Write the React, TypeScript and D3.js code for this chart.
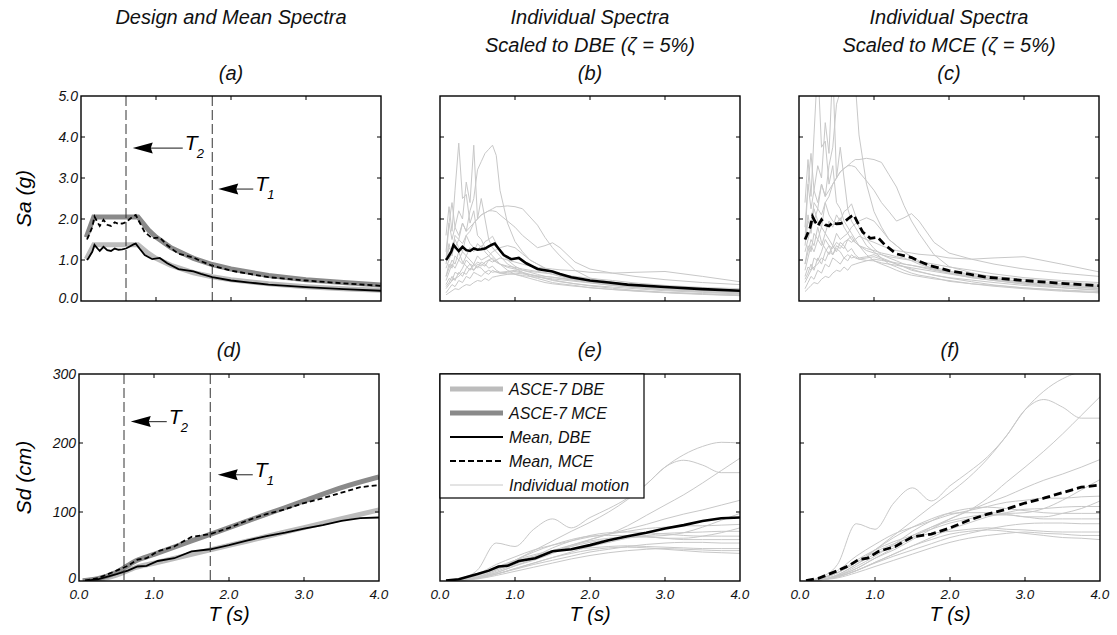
import React from 'react';
import * as d3 from 'd3';

// ---------- DATA ----------
// Period grids (s)
const T_SA = [0.08, 0.12, 0.16, 0.2, 0.25, 0.3, 0.35, 0.4, 0.45, 0.5, 0.55, 0.6, 0.65, 0.7, 0.75, 0.8, 0.9, 1.0, 1.1, 1.2, 1.3, 1.4, 1.5, 1.6, 1.8, 2.0, 2.3, 2.6, 3.0, 3.5, 4.0];
const T_SD = [0.08, 0.25, 0.5, 0.75, 1.0, 1.25, 1.5, 1.75, 2.0, 2.25, 2.5, 2.75, 3.0, 3.25, 3.5, 3.75, 4.0];
const T_MEAN_SA = [0.08, 0.1, 0.15, 0.18, 0.22, 0.25, 0.3, 0.35, 0.4, 0.45, 0.5, 0.55, 0.6, 0.65, 0.7, 0.73, 0.78, 0.85, 0.95, 1.05, 1.15, 1.3, 1.5, 1.6, 1.75, 2.0, 2.25, 2.5, 3.0, 3.5, 4.0];
const T_MEAN_SD = [0.08, 0.25, 0.5, 0.65, 0.78, 0.9, 1.05, 1.27, 1.5, 1.75, 2.0, 2.25, 2.5, 2.75, 3.0, 3.25, 3.5, 3.75, 4.0];
const T_DESIGN_SA = [0.07, 0.17, 0.76, 0.9, 1.0, 1.2, 1.5, 1.75, 2.0, 2.5, 3.0, 3.5, 4.0];
const T_DESIGN_SD = [0.05, 0.25, 0.5, 0.76, 1.0, 1.5, 2.0, 2.5, 3.0, 3.5, 4.0];

// ASCE-7 design spectra
const DESIGN_SA_DBE = [1.02, 1.37, 1.37, 1.16, 1.04, 0.87, 0.69, 0.59, 0.52, 0.42, 0.35, 0.30, 0.26];
const DESIGN_SA_MCE = [1.55, 2.05, 2.05, 1.73, 1.56, 1.30, 1.04, 0.89, 0.78, 0.62, 0.52, 0.45, 0.39];
const DESIGN_SD_DBE = [0.1, 2.1, 8.5, 19.6, 25.8, 38.7, 51.6, 64.5, 77.4, 90.3, 103];
const DESIGN_SD_MCE = [0.2, 3.2, 12.7, 29.4, 38.7, 58, 77.4, 96.8, 116, 135.5, 151];

// Mean spectra
const MEAN_SA_DBE = [1.0, 1.05, 1.2, 1.37, 1.28, 1.22, 1.32, 1.24, 1.22, 1.28, 1.25, 1.26, 1.28, 1.33, 1.38, 1.40, 1.28, 1.12, 1.02, 1.05, 0.92, 0.78, 0.72, 0.66, 0.58, 0.50, 0.45, 0.40, 0.34, 0.29, 0.25];
const MEAN_SA_MCE = [1.5, 1.58, 1.8, 2.06, 1.92, 1.83, 1.98, 1.86, 1.83, 1.92, 1.88, 1.89, 1.92, 2.0, 2.07, 2.1, 1.92, 1.68, 1.53, 1.55, 1.36, 1.15, 1.06, 0.97, 0.86, 0.74, 0.66, 0.58, 0.5, 0.43, 0.37];
const MEAN_SD_DBE = [0.5, 2.5, 10, 15, 21, 22, 29, 33, 43, 46, 52, 59, 65, 70, 76, 81, 87, 91, 92];
const MEAN_SD_MCE = [0.7, 4, 15, 22, 31, 33, 43, 50, 64, 68, 77, 88, 97, 104, 113, 120, 128, 136, 139];

// Individual motions, Sa (g), scaled to DBE
const REC_SA_DBE = [
  [1.6, 2.3, 1.7, 2.7, 3.85, 2.5, 2.6, 1.9, 2.2, 1.6, 1.5, 1.3, 1.2, 1.1, 1.0, 0.9, 0.75, 0.65, 0.6, 0.55, 0.5, 0.45, 0.42, 0.4, 0.36, 0.33, 0.28, 0.24, 0.2, 0.16, 0.13],
  [1.2, 1.9, 2.4, 1.8, 2.2, 2.0, 2.9, 2.4, 3.8, 2.0, 2.5, 2.0, 1.5, 1.3, 1.2, 1.1, 0.9, 0.8, 0.7, 0.6, 0.55, 0.5, 0.45, 0.42, 0.38, 0.32, 0.28, 0.25, 0.21, 0.18, 0.15],
  [0.9, 1.3, 1.2, 1.6, 1.5, 1.9, 1.7, 2.2, 2.5, 3.2, 3.4, 3.6, 3.7, 3.8, 3.55, 2.7, 1.9, 1.45, 1.2, 1.0, 0.9, 0.8, 0.7, 0.62, 0.52, 0.45, 0.38, 0.33, 0.27, 0.22, 0.18],
  [1.0, 1.9, 1.5, 1.8, 1.6, 1.9, 1.7, 1.8, 1.9, 2.0, 2.1, 2.15, 2.2, 2.25, 2.3, 2.3, 2.32, 2.3, 2.25, 2.05, 1.85, 1.55, 1.3, 1.1, 0.75, 0.56, 0.46, 0.38, 0.3, 0.25, 0.2],
  [0.8, 1.0, 1.2, 1.3, 1.5, 1.4, 1.6, 1.7, 1.9, 2.0, 2.1, 2.15, 2.2, 2.2, 2.18, 2.1, 1.95, 1.8, 1.6, 1.45, 1.3, 1.35, 1.42, 1.3, 0.95, 0.78, 0.68, 0.6, 0.52, 0.45, 0.4],
  [0.3, 0.4, 0.5, 0.55, 0.6, 0.7, 0.65, 0.8, 0.75, 0.9, 0.85, 0.95, 1.0, 0.95, 1.0, 1.05, 1.0, 0.95, 0.9, 0.85, 0.82, 0.8, 0.78, 0.76, 0.74, 0.7, 0.68, 0.7, 0.72, 0.6, 0.47],
  [0.6, 0.9, 0.8, 1.1, 1.0, 1.2, 1.1, 1.3, 1.2, 1.4, 1.3, 1.45, 1.5, 1.58, 1.4, 1.2, 1.0, 0.85, 0.75, 0.7, 0.65, 0.6, 0.58, 0.55, 0.5, 0.45, 0.4, 0.36, 0.32, 0.28, 0.25],
  [0.5, 0.7, 0.9, 0.8, 1.0, 0.9, 1.1, 1.0, 0.9, 1.1, 1.0, 1.05, 1.1, 1.2, 1.25, 1.3, 1.35, 1.3, 1.15, 1.0, 0.9, 0.8, 0.72, 0.65, 0.55, 0.48, 0.42, 0.36, 0.3, 0.25, 0.21],
  [0.2, 0.3, 0.4, 0.35, 0.5, 0.45, 0.6, 0.55, 0.7, 0.65, 0.6, 0.7, 0.75, 0.7, 0.72, 0.68, 0.66, 0.65, 0.62, 0.6, 0.58, 0.56, 0.54, 0.52, 0.48, 0.44, 0.38, 0.33, 0.28, 0.24, 0.2],
  [0.35, 0.45, 0.6, 0.5, 0.7, 0.6, 0.8, 0.9, 0.75, 0.85, 0.8, 0.7, 0.65, 0.75, 0.7, 0.68, 0.7, 0.72, 0.68, 0.64, 0.6, 0.56, 0.52, 0.48, 0.42, 0.37, 0.31, 0.26, 0.21, 0.17, 0.13],
  [0.6, 0.8, 1.0, 0.9, 1.2, 0.95, 0.85, 0.75, 0.9, 0.8, 0.95, 0.9, 0.8, 0.85, 0.75, 0.7, 0.72, 0.75, 0.7, 0.65, 0.6, 0.55, 0.5, 0.47, 0.42, 0.38, 0.34, 0.3, 0.25, 0.21, 0.17],
  [0.15, 0.2, 0.25, 0.3, 0.28, 0.35, 0.4, 0.38, 0.45, 0.5, 0.48, 0.55, 0.5, 0.58, 0.6, 0.62, 0.65, 0.68, 0.66, 0.64, 0.62, 0.6, 0.58, 0.56, 0.52, 0.48, 0.44, 0.4, 0.35, 0.31, 0.27],
  [1.0, 1.4, 1.1, 1.5, 1.3, 1.2, 1.6, 1.4, 1.3, 1.25, 1.35, 1.2, 1.1, 1.0, 0.95, 0.9, 0.85, 0.82, 0.78, 0.75, 0.72, 0.7, 0.65, 0.6, 0.52, 0.46, 0.4, 0.34, 0.29, 0.26, 0.23],
  [0.4, 0.55, 0.5, 0.7, 0.65, 0.8, 1.0, 0.9, 0.85, 0.95, 0.9, 0.85, 1.0, 1.05, 0.95, 0.9, 0.82, 0.78, 0.75, 0.72, 0.7, 0.68, 0.66, 0.64, 0.6, 0.55, 0.5, 0.44, 0.38, 0.33, 0.3],
];

// Individual motions, Sa (g), scaled to MCE
const REC_SA_MCE = [
  [2.4, 3.45, 2.55, 4.05, 5.8, 3.75, 3.9, 2.85, 3.3, 2.4, 2.25, 1.95, 1.8, 1.65, 1.5, 1.35, 1.13, 0.98, 0.9, 0.83, 0.75, 0.68, 0.63, 0.6, 0.54, 0.5, 0.42, 0.36, 0.3, 0.24, 0.2],
  [1.8, 2.85, 3.6, 2.7, 3.3, 3.0, 4.35, 3.6, 5.7, 3.0, 3.75, 3.0, 2.25, 1.95, 1.8, 1.65, 1.35, 1.2, 1.05, 0.9, 0.83, 0.75, 0.68, 0.63, 0.57, 0.48, 0.42, 0.38, 0.32, 0.27, 0.23],
  [1.35, 1.95, 1.8, 2.4, 2.25, 2.85, 2.55, 3.3, 3.75, 4.8, 5.1, 5.4, 5.55, 5.7, 5.33, 4.05, 2.85, 2.18, 1.8, 1.5, 1.35, 1.2, 1.05, 0.93, 0.78, 0.68, 0.57, 0.5, 0.41, 0.33, 0.27],
  [1.5, 2.85, 2.25, 2.7, 2.4, 2.85, 2.55, 2.7, 2.85, 3.0, 3.15, 3.23, 3.3, 3.38, 3.45, 3.45, 3.48, 3.45, 3.38, 3.08, 2.78, 2.33, 1.95, 1.65, 1.13, 0.84, 0.69, 0.57, 0.45, 0.38, 0.3],
  [1.2, 1.5, 1.8, 1.95, 2.25, 2.1, 2.4, 2.55, 2.85, 3.0, 3.15, 3.23, 3.3, 3.3, 3.27, 3.15, 2.93, 2.7, 2.4, 2.18, 1.95, 2.03, 2.13, 1.95, 1.43, 1.17, 1.02, 0.9, 0.78, 0.68, 0.6],
  [0.45, 0.6, 0.75, 0.83, 0.9, 1.05, 0.98, 1.2, 1.13, 1.35, 1.28, 1.43, 1.5, 1.43, 1.5, 1.58, 1.5, 1.43, 1.35, 1.28, 1.23, 1.2, 1.17, 1.14, 1.11, 1.05, 1.02, 1.05, 1.08, 0.9, 0.71],
  [0.9, 1.35, 1.2, 1.65, 1.5, 1.8, 1.65, 1.95, 1.8, 2.1, 1.95, 2.18, 2.25, 2.37, 2.1, 1.8, 1.5, 1.28, 1.13, 1.05, 0.98, 0.9, 0.87, 0.83, 0.75, 0.68, 0.6, 0.54, 0.48, 0.42, 0.38],
  [0.75, 1.05, 1.35, 1.2, 1.5, 1.35, 1.65, 1.5, 1.35, 1.65, 1.5, 1.58, 1.65, 1.8, 1.88, 1.95, 2.03, 1.95, 1.73, 1.5, 1.35, 1.2, 1.08, 0.98, 0.83, 0.72, 0.63, 0.54, 0.45, 0.38, 0.32],
  [0.3, 0.45, 0.6, 0.53, 0.75, 0.68, 0.9, 0.83, 1.05, 0.98, 0.9, 1.05, 1.13, 1.05, 1.08, 1.02, 0.99, 0.98, 0.93, 0.9, 0.87, 0.84, 0.81, 0.78, 0.72, 0.66, 0.57, 0.5, 0.42, 0.36, 0.3],
  [0.53, 0.68, 0.9, 0.75, 1.05, 0.9, 1.2, 1.35, 1.13, 1.28, 1.2, 1.05, 0.98, 1.13, 1.05, 1.02, 1.05, 1.08, 1.02, 0.96, 0.9, 0.84, 0.78, 0.72, 0.63, 0.56, 0.47, 0.39, 0.32, 0.26, 0.2],
  [0.9, 1.2, 1.5, 1.35, 1.8, 1.43, 1.28, 1.13, 1.35, 1.2, 1.43, 1.35, 1.2, 1.28, 1.13, 1.05, 1.08, 1.13, 1.05, 0.98, 0.9, 0.83, 0.75, 0.71, 0.63, 0.57, 0.51, 0.45, 0.38, 0.32, 0.26],
  [0.23, 0.3, 0.38, 0.45, 0.42, 0.53, 0.6, 0.57, 0.68, 0.75, 0.72, 0.83, 0.75, 0.87, 0.9, 0.93, 0.98, 1.02, 0.99, 0.96, 0.93, 0.9, 0.87, 0.84, 0.78, 0.72, 0.66, 0.6, 0.53, 0.47, 0.41],
  [1.5, 2.1, 1.65, 2.25, 1.95, 1.8, 2.4, 2.1, 1.95, 1.88, 2.03, 1.8, 1.65, 1.5, 1.43, 1.35, 1.28, 1.23, 1.17, 1.13, 1.08, 1.05, 0.98, 0.9, 0.78, 0.69, 0.6, 0.51, 0.44, 0.39, 0.35],
  [0.6, 0.83, 0.75, 1.05, 0.98, 1.2, 1.5, 1.35, 1.28, 1.43, 1.35, 1.28, 1.5, 1.58, 1.43, 1.35, 1.23, 1.17, 1.13, 1.08, 1.05, 1.02, 0.99, 0.96, 0.9, 0.83, 0.75, 0.66, 0.57, 0.5, 0.45],
];

// Individual motions, Sd (cm), scaled to DBE
const REC_SD_DBE = [
  [0.3, 3, 16, 55, 50, 75, 90, 77, 92, 105, 120, 140, 165, 175, 168, 157, 157],
  [0.2, 1, 6, 16, 30, 44, 58, 72, 85, 100, 118, 140, 165, 183, 195, 201, 200],
  [0.2, 1, 5, 12, 22, 32, 42, 52, 60, 68, 80, 95, 110, 125, 142, 160, 178],
  [0.2, 1, 5, 12, 22, 30, 40, 50, 60, 68, 75, 82, 90, 97, 103, 110, 117],
  [0.3, 2, 8, 18, 30, 42, 52, 60, 65, 66, 66, 65, 66, 70, 78, 88, 98],
  [0.3, 2, 10, 24, 35, 45, 52, 58, 64, 68, 72, 76, 78, 80, 80, 81, 82],
  [0.2, 1, 6, 16, 26, 34, 44, 52, 58, 62, 64, 64, 62, 62, 65, 70, 77],
  [0.2, 1, 4, 10, 18, 26, 34, 42, 50, 56, 62, 66, 69, 70, 71, 72, 72],
  [0.2, 1, 5, 14, 24, 35, 48, 58, 66, 70, 71, 70, 68, 66, 65, 65, 65],
  [0.3, 2, 8, 20, 30, 38, 44, 50, 56, 60, 63, 64, 62, 60, 60, 60, 60],
  [0.2, 1, 4, 10, 17, 24, 30, 36, 42, 46, 50, 53, 55, 56, 56, 55, 55],
  [0.3, 2, 8, 18, 28, 36, 42, 46, 48, 50, 51, 50, 49, 48, 47, 47, 47],
  [0.1, 1, 3, 8, 14, 20, 26, 32, 37, 41, 44, 46, 47, 46, 45, 44, 44],
  [0.2, 1, 4, 10, 18, 26, 34, 40, 45, 48, 49, 48, 46, 44, 42, 41, 40],
];

// Individual motions, Sd (cm), scaled to MCE
const REC_SD_MCE = [
  [0.5, 4.5, 24, 83, 75, 113, 135, 116, 138, 158, 180, 210, 248, 263, 252, 236, 236],
  [0.3, 1.5, 9, 24, 45, 66, 87, 108, 128, 150, 177, 210, 248, 275, 293, 302, 300],
  [0.3, 1.5, 7.5, 18, 33, 48, 63, 78, 90, 102, 120, 143, 165, 188, 213, 240, 267],
  [0.3, 1.5, 7.5, 18, 33, 45, 60, 75, 90, 102, 113, 123, 135, 146, 155, 165, 176],
  [0.5, 3, 12, 27, 45, 63, 78, 90, 98, 99, 99, 98, 99, 105, 117, 132, 147],
  [0.5, 3, 15, 36, 53, 68, 78, 87, 96, 102, 108, 114, 117, 120, 120, 122, 123],
  [0.3, 1.5, 9, 24, 39, 51, 66, 78, 87, 93, 96, 96, 93, 93, 98, 105, 116],
  [0.3, 1.5, 6, 15, 27, 39, 51, 63, 75, 84, 93, 99, 104, 105, 107, 108, 108],
  [0.3, 1.5, 7.5, 21, 36, 53, 72, 87, 99, 105, 107, 105, 102, 99, 98, 98, 98],
  [0.5, 3, 12, 30, 45, 57, 66, 75, 84, 90, 95, 96, 93, 90, 90, 90, 90],
  [0.3, 1.5, 6, 15, 26, 36, 45, 54, 63, 69, 75, 80, 83, 84, 84, 83, 83],
  [0.5, 3, 12, 27, 42, 54, 63, 69, 72, 75, 77, 75, 74, 72, 71, 71, 71],
  [0.2, 1.5, 4.5, 12, 21, 30, 39, 48, 56, 62, 66, 69, 71, 69, 68, 66, 66],
  [0.3, 1.5, 6, 15, 27, 39, 51, 60, 68, 72, 74, 72, 69, 66, 63, 62, 60],
];

// Characteristic periods
const PERIOD_MARKS = [
  { name: '2', T: 0.6 },
  { name: '1', T: 1.75 },
];
// Arrow tips [T, value] per panel
const ARROWS_SA = [{ sub: '2', T: 0.69, v: 3.73, len: 50 }, { sub: '1', T: 1.83, v: 2.73, len: 35 }];
const ARROWS_SD = [{ sub: '2', T: 0.69, v: 231, len: 36 }, { sub: '1', T: 1.85, v: 154, len: 35 }];

// Ticks
const X_TICKS = [0, 1, 2, 3, 4];
const X_TICK_LABELS = ['0.0', '1.0', '2.0', '3.0', '4.0'];
const SA_TICKS = [0, 1, 2, 3, 4, 5];
const SA_TICK_LABELS = ['0.0', '1.0', '2.0', '3.0', '4.0', '5.0'];
const SD_TICKS = [0, 100, 200, 300];
const SD_TICK_LABELS = ['0', '100', '200', '300'];

const LEGEND_ITEMS = ['ASCE-7 DBE', 'ASCE-7 MCE', 'Mean, DBE', 'Mean, MCE', 'Individual motion'];

// ---------- STYLE ----------
const FONT = '"Liberation Sans", Arial, Helvetica, sans-serif';
const C_IND = '#c8c8c8';
const C_DBE = '#bcbcbc';
const C_MCE = '#8a8a8a';

const STYLE_IND = { stroke: C_IND, strokeWidth: 1, fill: 'none' };
const STYLE_DES_DBE = { stroke: C_DBE, strokeWidth: 5, fill: 'none' };
const STYLE_DES_MCE = { stroke: C_MCE, strokeWidth: 5, fill: 'none' };
const STYLE_MEAN_DBE = { stroke: '#000', strokeWidth: 2.2, fill: 'none' };
const STYLE_MEAN_MCE = { stroke: '#000', strokeWidth: 2.2, fill: 'none', strokeDasharray: '6,3' };

const PW = 300;
const TOP_ROW = { yb: 301, yt: 96 };
const BOT_ROW = { yb: 581, yt: 374 };

function pathOf(xs, ys, T, V, curve?) {
  const n = Math.min(T.length, V.length);
  const pts = d3.range(n).map((i) => [T[i], V[i]]);
  const gen = d3.line().x((d) => xs(d[0])).y((d) => ys(d[1]));
  if (curve) gen.curve(curve);
  return gen(pts);
}

function Axes({ xs, ys, yTicks, yLabels, xLabels }) {
  const [x0, x1] = xs.range();
  const [yb, yt] = ys.range();
  return (
    <g>
      {X_TICKS.slice(1, -1).map((v) => (
        <g key={'xt' + v} stroke="#000" strokeWidth={1}>
          <line x1={xs(v)} x2={xs(v)} y1={yb} y2={yb - 4} />
          <line x1={xs(v)} x2={xs(v)} y1={yt} y2={yt + 4} />
        </g>
      ))}
      {yTicks.slice(1, -1).map((v) => (
        <g key={'yt' + v} stroke="#000" strokeWidth={1}>
          <line x1={x0} x2={x0 + 4} y1={ys(v)} y2={ys(v)} />
          <line x1={x1} x2={x1 - 4} y1={ys(v)} y2={ys(v)} />
        </g>
      ))}
      <rect x={x0} y={yt} width={x1 - x0} height={yb - yt} fill="none" stroke="#000" strokeWidth={1.4} />
      {xLabels &&
        X_TICKS.map((v, i) => (
          <text key={'xl' + v} x={xs(v)} y={yb + 18} textAnchor="middle" fontSize={13.5} fontStyle="italic" fill="#111">
            {xLabels[i]}
          </text>
        ))}
      {yLabels &&
        yTicks.map((v, i) => (
          <text key={'yl' + v} x={x0 - 3} y={ys(v) + (i === 0 ? 1.5 : 5)} textAnchor="end" fontSize={14} fontStyle="italic" fill="#111">
            {yLabels[i]}
          </text>
        ))}
    </g>
  );
}

function ClipDef({ id, xs, ys }) {
  const [x0, x1] = xs.range();
  const [yb, yt] = ys.range();
  return (
    <clipPath id={id}>
      <rect x={x0} y={yt} width={x1 - x0} height={yb - yt} />
    </clipPath>
  );
}

function PeriodMarks({ xs, ys, arrows }) {
  const [yb, yt] = ys.range();
  return (
    <g>
      {PERIOD_MARKS.map((m) => (
        <line key={'pm' + m.name} x1={xs(m.T)} x2={xs(m.T)} y1={yt} y2={yb} stroke="#333" strokeWidth={1} strokeDasharray="10,4" />
      ))}
      {arrows.map((a) => {
        const x = xs(a.T);
        const y = ys(a.v);
        return (
          <g key={'ar' + a.sub}>
            <line x1={x + 15} x2={x + a.len} y1={y} y2={y} stroke="#444" strokeWidth={1.2} />
            <path d={`M${x},${y} L${x + 20},${y - 5.5} L${x + 18},${y} L${x + 20},${y + 5.5} Z`} fill="#000" />
            <text x={x + a.len + 2} y={y + 2} fontSize={21} fontStyle="italic">
              T
            </text>
            <text x={x + a.len + 14} y={y + 10} fontSize={13} fontStyle="italic">
              {a.sub}
            </text>
          </g>
        );
      })}
    </g>
  );
}

export default function App() {
  const xA = d3.scaleLinear().domain([0, 4]).range([81, 81 + PW]);
  const xB = d3.scaleLinear().domain([0, 4]).range([440, 440 + PW]);
  const xC = d3.scaleLinear().domain([0, 4]).range([799, 799 + PW]);
  const xD = d3.scaleLinear().domain([0, 4]).range([79, 79 + PW]);
  const xE = d3.scaleLinear().domain([0, 4]).range([440, 440 + PW]);
  const xF = d3.scaleLinear().domain([0, 4]).range([800, 800 + PW]);
  const ySa = d3.scaleLinear().domain([0, 5]).range([TOP_ROW.yb, TOP_ROW.yt]);
  const ySd = d3.scaleLinear().domain([0, 300]).range([BOT_ROW.yb, BOT_ROW.yt]);

  const titleProps = { fontSize: 20, fontStyle: 'italic', textAnchor: 'middle', fill: '#111' };
  const smooth = d3.curveMonotoneX;

  // legend geometry
  const lgX = 440, lgY = 374, lgW = 204, lgH = 124;

  return (
    <svg width={1117} height={635} style={{ position: 'absolute', left: 0, top: 0, background: '#fff' }} fontFamily={FONT}>
      <rect x={0} y={0} width={1117} height={635} fill="#fff" />
      <defs>
        <ClipDef id="ca" xs={xA} ys={ySa} />
        <ClipDef id="cb" xs={xB} ys={ySa} />
        <ClipDef id="cc" xs={xC} ys={ySa} />
        <ClipDef id="cd" xs={xD} ys={ySd} />
        <ClipDef id="ce" xs={xE} ys={ySd} />
        <ClipDef id="cf" xs={xF} ys={ySd} />
      </defs>

      {/* Titles */}
      <text x={231} y={24} {...titleProps}>Design and Mean Spectra</text>
      <text x={590} y={24} {...titleProps}>Individual Spectra</text>
      <text x={590} y={52} {...titleProps}>Scaled to DBE (ζ = 5%)</text>
      <text x={949} y={24} {...titleProps}>Individual Spectra</text>
      <text x={949} y={52} {...titleProps}>Scaled to MCE (ζ = 5%)</text>
      <text x={231} y={80} {...titleProps}>(a)</text>
      <text x={590} y={80} {...titleProps}>(b)</text>
      <text x={949} y={80} {...titleProps}>(c)</text>
      <text x={229} y={357} {...titleProps}>(d)</text>
      <text x={590} y={357} {...titleProps}>(e)</text>
      <text x={950} y={357} {...titleProps}>(f)</text>

      {/* Axis labels */}
      <text transform={`translate(31,${(TOP_ROW.yb + TOP_ROW.yt) / 2}) rotate(-90)`} textAnchor="middle" fontSize={21} fontStyle="italic">Sa (g)</text>
      <text transform={`translate(31,${(BOT_ROW.yb + BOT_ROW.yt) / 2}) rotate(-90)`} textAnchor="middle" fontSize={21} fontStyle="italic">Sd (cm)</text>
      {[xD, xE, xF].map((xs, i) => (
        <text key={'tl' + i} x={(xs.range()[0] + xs.range()[1]) / 2} y={621} textAnchor="middle" fontSize={20} fontStyle="italic">T (s)</text>
      ))}

      {/* (a) */}
      <g clipPath="url(#ca)">
        <path d={pathOf(xA, ySa, T_DESIGN_SA, DESIGN_SA_DBE)} {...STYLE_DES_DBE} />
        <path d={pathOf(xA, ySa, T_DESIGN_SA, DESIGN_SA_MCE)} {...STYLE_DES_MCE} />
        <path d={pathOf(xA, ySa, T_MEAN_SA, MEAN_SA_DBE)} {...STYLE_MEAN_DBE} strokeWidth={1.8} />
        <path d={pathOf(xA, ySa, T_MEAN_SA, MEAN_SA_MCE)} {...STYLE_MEAN_MCE} strokeWidth={1.8} strokeDasharray="5,3" />
      </g>
      <PeriodMarks xs={xA} ys={ySa} arrows={ARROWS_SA} />
      <Axes xs={xA} ys={ySa} yTicks={SA_TICKS} yLabels={SA_TICK_LABELS} />

      {/* (b) */}
      <g clipPath="url(#cb)">
        {REC_SA_DBE.map((r, i) => (
          <path key={'b' + i} d={pathOf(xB, ySa, T_SA, r)} {...STYLE_IND} />
        ))}
        <path d={pathOf(xB, ySa, T_MEAN_SA, MEAN_SA_DBE)} {...STYLE_MEAN_DBE} strokeWidth={2.6} />
      </g>
      <Axes xs={xB} ys={ySa} yTicks={SA_TICKS} />

      {/* (c) */}
      <g clipPath="url(#cc)">
        {REC_SA_MCE.map((r, i) => (
          <path key={'c' + i} d={pathOf(xC, ySa, T_SA, r)} {...STYLE_IND} />
        ))}
        <path d={pathOf(xC, ySa, T_MEAN_SA, MEAN_SA_MCE)} {...STYLE_MEAN_MCE} strokeWidth={2.8} strokeDasharray="8,4" />
      </g>
      <Axes xs={xC} ys={ySa} yTicks={SA_TICKS} />

      {/* (d) */}
      <g clipPath="url(#cd)">
        <path d={pathOf(xD, ySd, T_DESIGN_SD, DESIGN_SD_DBE, smooth)} {...STYLE_DES_DBE} />
        <path d={pathOf(xD, ySd, T_DESIGN_SD, DESIGN_SD_MCE, smooth)} {...STYLE_DES_MCE} />
        <path d={pathOf(xD, ySd, T_MEAN_SD, MEAN_SD_DBE)} {...STYLE_MEAN_DBE} strokeWidth={1.8} />
        <path d={pathOf(xD, ySd, T_MEAN_SD, MEAN_SD_MCE)} {...STYLE_MEAN_MCE} strokeWidth={1.8} strokeDasharray="5,3" />
      </g>
      <PeriodMarks xs={xD} ys={ySd} arrows={ARROWS_SD} />
      <Axes xs={xD} ys={ySd} yTicks={SD_TICKS} yLabels={SD_TICK_LABELS} xLabels={X_TICK_LABELS} />

      {/* (e) */}
      <g clipPath="url(#ce)">
        {REC_SD_DBE.map((r, i) => (
          <path key={'e' + i} d={pathOf(xE, ySd, T_SD, r, smooth)} {...STYLE_IND} />
        ))}
        <path d={pathOf(xE, ySd, T_MEAN_SD, MEAN_SD_DBE)} {...STYLE_MEAN_DBE} strokeWidth={2.6} />
      </g>
      <Axes xs={xE} ys={ySd} yTicks={SD_TICKS} xLabels={X_TICK_LABELS} />

      {/* legend */}
      <g>
        <rect x={lgX} y={lgY} width={lgW} height={lgH} fill="#fff" stroke="#000" strokeWidth={1.2} />
        {LEGEND_ITEMS.map((name, i) => {
          const y = lgY + 15 + i * 24;
          const styles = [STYLE_DES_DBE, STYLE_DES_MCE, STYLE_MEAN_DBE, STYLE_MEAN_MCE, STYLE_IND];
          return (
            <g key={'lg' + i}>
              <line x1={lgX + 10} x2={lgX + 63} y1={y} y2={y} {...styles[i]} strokeDasharray={i === 3 ? '6,3' : undefined} />
              <text x={lgX + 69} y={y + 6} fontSize={16} fontStyle="italic" fill="#111">{name}</text>
            </g>
          );
        })}
      </g>

      {/* (f) */}
      <g clipPath="url(#cf)">
        {REC_SD_MCE.map((r, i) => (
          <path key={'f' + i} d={pathOf(xF, ySd, T_SD, r, smooth)} {...STYLE_IND} />
        ))}
        <path d={pathOf(xF, ySd, T_MEAN_SD, MEAN_SD_MCE)} {...STYLE_MEAN_MCE} strokeWidth={2.8} strokeDasharray="8,4" />
      </g>
      <Axes xs={xF} ys={ySd} yTicks={SD_TICKS} xLabels={X_TICK_LABELS} />
    </svg>
  );
}
